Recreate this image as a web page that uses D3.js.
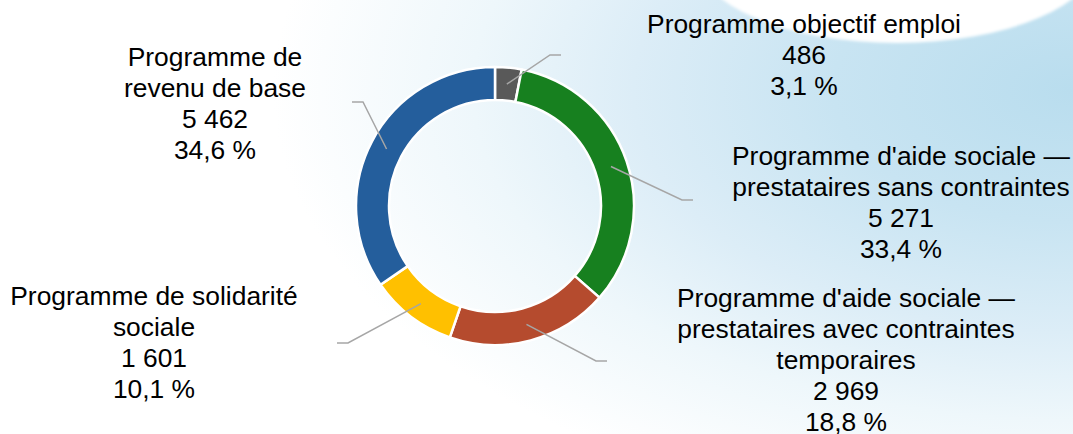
<!DOCTYPE html>
<html>
<head>
<meta charset="utf-8">
<script src="https://cdn.jsdelivr.net/npm/d3@7"></script>
<style>
  body { margin: 0; background: #fff; }
  svg { display: block; }
  text { font-family: "Liberation Sans", Arial, sans-serif; font-size: 26.4px; fill: #000; }
</style>
</head>
<body>
<svg id="chart"></svg>
<script>
// data
const categories = [
  'Programme objectif emploi',
  "Programme d'aide sociale —\nprestataires sans contraintes",
  "Programme d'aide sociale —\nprestataires avec contraintes\ntemporaires",
  'Programme de solidarité\nsociale',
  'Programme de\nrevenu de base'
];
const values = [486, 5271, 2969, 1601, 5462];
const colors = ['#595959', '#17801f', '#b54b2e', '#ffc000', '#245e9c'];

// layout of the labels (centre x, first baseline, end of leader line, side)
const labelLayout = [
  { x: 804, y: 33, tx: 561, ty: 55, side: 1 },
  { x: 901, y: 165, tx: 693, ty: 200, side: 1 },
  { x: 846, y: 307, tx: 607, ty: 361, side: 1 },
  { x: 154, y: 305, tx: 337, ty: 343, side: -1 },
  { x: 215, y: 66, tx: 352, ty: 102, side: -1 }
];

const width = 1073;
const height = 434;
const cx = 495;
const cy = 206;
const outerR = 139;
const innerR = 106;
const lineHeight = 31;

const fr = d3.formatLocale({ decimal: ',', thousands: ' ', grouping: [3], currency: ['', ' $'] });
const fmtNum = fr.format(',d');
const fmtPct = fr.format('.1f');
const total = d3.sum(values);

const svg = d3.select('#chart')
  .attr('width', width)
  .attr('height', height);

// background
const defs = svg.append('defs');
const grad = defs.append('radialGradient')
  .attr('id', 'bg')
  .attr('gradientUnits', 'userSpaceOnUse')
  .attr('cx', 1073).attr('cy', 90).attr('r', 800)
  .attr('gradientTransform', 'translate(1073 90) scale(1 0.55) translate(-1073 -90)');
grad.append('stop').attr('offset', 0).attr('stop-color', '#b9ddee');
grad.append('stop').attr('offset', 0.3).attr('stop-color', '#c8e4f2');
grad.append('stop').attr('offset', 0.55).attr('stop-color', '#dcedf7');
grad.append('stop').attr('offset', 0.75).attr('stop-color', '#eef7fb');
grad.append('stop').attr('offset', 1).attr('stop-color', '#ffffff');

defs.append('filter').attr('id', 'soft')
  .append('feGaussianBlur').attr('stdDeviation', 1.5);

svg.append('rect')
  .attr('width', width)
  .attr('height', height)
  .attr('fill', 'url(#bg)');

svg.append('ellipse')
  .attr('cx', 897).attr('cy', -42)
  .attr('rx', 200).attr('ry', 85)
  .attr('fill', '#ffffff')
  .attr('filter', 'url(#soft)');

// donut
const pie = d3.pie().sort(null).value(d => d);
const arcs = pie(values);
const arc = d3.arc().innerRadius(innerR).outerRadius(outerR);

const g = svg.append('g').attr('transform', `translate(${cx}, ${cy})`);

g.selectAll('path')
  .data(arcs)
  .enter()
  .append('path')
  .attr('d', arc)
  .attr('fill', (d, i) => colors[i])
  .attr('stroke', '#ffffff')
  .attr('stroke-width', 2.5)
  .attr('stroke-linejoin', 'round');

// leader lines
svg.append('g')
  .selectAll('polyline')
  .data(arcs)
  .enter()
  .append('polyline')
  .attr('points', (d, i) => {
    const c = arc.centroid(d);
    const l = labelLayout[i];
    const elbowX = l.tx + l.side * -11;
    return [[c[0] + cx, c[1] + cy], [elbowX, l.ty], [l.tx, l.ty]].map(p => p.join(',')).join(' ');
  })
  .attr('fill', 'none')
  .attr('stroke', '#a6a6a6')
  .attr('stroke-width', 1.5);

// labels
const labels = svg.append('g')
  .selectAll('text')
  .data(arcs)
  .enter()
  .append('text')
  .attr('text-anchor', 'middle')
  .attr('x', (d, i) => labelLayout[i].x)
  .attr('y', (d, i) => labelLayout[i].y);

labels.each(function(d, i) {
  const lines = categories[i].split('\n')
    .concat([fmtNum(values[i]), fmtPct(values[i] / total * 100) + ' %']);
  d3.select(this).selectAll('tspan')
    .data(lines)
    .enter()
    .append('tspan')
    .attr('x', labelLayout[i].x)
    .attr('dy', (t, j) => j === 0 ? 0 : lineHeight)
    .text(t => t);
});
</script>
</body>
</html>
